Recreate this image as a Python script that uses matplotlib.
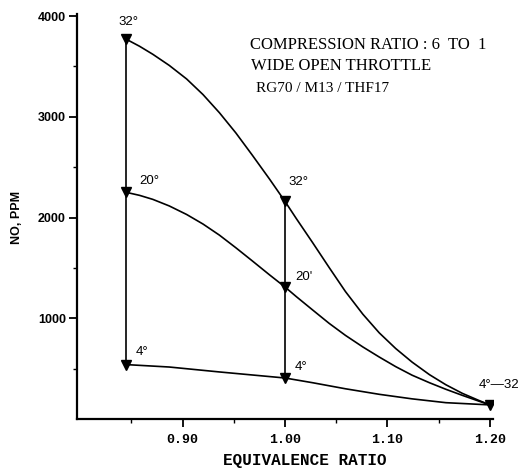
import matplotlib
matplotlib.use('Agg')
import matplotlib.pyplot as plt

# equivalence ratio / NO ppm
phi_32 = [0.845, 0.858, 0.871, 0.887, 0.904, 0.920, 0.936, 0.952, 0.968, 0.985, 1.000,
          1.011, 1.027, 1.043, 1.059, 1.076, 1.092, 1.108, 1.124, 1.141, 1.157, 1.173, 1.189, 1.200]
no_32 = [3770, 3700, 3620, 3510, 3375, 3220, 3040, 2840, 2620, 2380, 2160,
         1990, 1750, 1505, 1265, 1040, 855, 700, 565, 440, 340, 255, 185, 140]

phi_20 = [0.845, 0.858, 0.871, 0.887, 0.904, 0.920, 0.936, 0.952, 0.968, 0.985, 1.000,
          1.011, 1.027, 1.043, 1.059, 1.076, 1.092, 1.108, 1.124, 1.141, 1.157, 1.173, 1.189, 1.200]
no_20 = [2250, 2220, 2180, 2115, 2030, 1935, 1825, 1700, 1570, 1430, 1310,
         1215, 1082, 950, 830, 715, 615, 520, 435, 360, 295, 235, 178, 140]

phi_4 = [0.845, 0.887, 0.936, 1.000, 1.027, 1.059, 1.092, 1.124, 1.157, 1.200]
no_4 = [540, 516, 467, 407, 360, 300, 245, 200, 162, 140]

# measured points (triangles)
phi_left = [0.845, 0.845, 0.845]
no_left = [3770, 2250, 540]
phi_mid = [1.00, 1.00, 1.00]
no_mid = [2160, 1310, 407]
phi_end = [1.20]
no_end = [140]

labels_left = ['32°', '20°', '4°']
labels_mid = ['32°', "20'", '4°']
label_end = '4°\u201432'

fig = plt.figure(figsize=(5.23, 4.70), dpi=100)
ax = fig.add_axes([77/523, 51/470, 416/523, 405/470])

lw = 1.2
ax.plot(phi_32, no_32, color='black', lw=lw)
ax.plot(phi_20, no_20, color='black', lw=lw)
ax.plot(phi_4, no_4, color='black', lw=lw)
ax.plot(phi_left, no_left, color='black', lw=lw, marker='v', ms=6.5)
ax.plot(phi_mid, no_mid, color='black', lw=lw, marker='v', ms=6.5)
ax.plot(phi_end, no_end, color='black', ls='none', marker='v', ms=6.5)

lab_font = dict(family='Liberation Sans', fontsize=9.5, color='black')
left_off = [(2, 17, 'center'), (13, 11, 'left'), (10, 13, 'left')]
for x, y, t, (dx, dy, ha) in zip(phi_left, no_left, labels_left, left_off):
    ax.annotate(t, (x, y), xytext=(dx, dy), textcoords='offset pixels',
                ha=ha, va='center', **lab_font)
mid_off = [(3, 19), (10, 10), (10, 11)]
for x, y, t, (dx, dy) in zip(phi_mid, no_mid, labels_mid, mid_off):
    ax.annotate(t, (x, y), xytext=(dx, dy), textcoords='offset pixels',
                ha='left', va='center', **lab_font)
ax.annotate(label_end, (phi_end[0], no_end[0]), xytext=(-11, 20),
            textcoords='offset pixels', ha='left', va='center',
            annotation_clip=False, **lab_font)

ax.set_xlim(0.797, 1.203)
ax.set_ylim(0, 4020)
for s in ['top', 'right']:
    ax.spines[s].set_visible(False)
for s in ['left', 'bottom']:
    ax.spines[s].set_linewidth(1.6)

ax.set_xticks([0.90, 1.00, 1.10, 1.20])
ax.set_xticklabels(['0.90', '1.00', '1.10', '1.20'])
ax.set_xticks([0.85, 0.95, 1.05, 1.15], minor=True)
ax.set_yticks([1000, 2000, 3000, 4000])
ax.set_yticks([500, 1500, 2500, 3500], minor=True)
ax.tick_params(axis='both', which='major', direction='out', length=6, width=1.3)
ax.tick_params(axis='both', which='minor', direction='out', length=3, width=1.0)
ax.tick_params(axis='y', pad=2)
ax.tick_params(axis='x', pad=5)
for t in ax.get_yticklabels():
    t.set_fontfamily('Liberation Sans')
    t.set_fontweight('bold')
    t.set_fontsize(9)
for t in ax.get_xticklabels():
    t.set_fontfamily('Liberation Mono')
    t.set_fontweight('bold')
    t.set_fontsize(9.5)

fig.text(305/523, 1 - 461/470, 'EQUIVALENCE RATIO', ha='center', va='center',
         family='Liberation Mono', fontweight='bold', fontsize=11.5)
fig.text(17/523, 1 - 217/470, 'NO, PPM', ha='center', va='center', rotation=90,
         family='Liberation Sans', fontweight='bold', fontsize=9)

note = dict(family='Liberation Serif', color='black', ha='left', va='center')
fig.text(250/523, 1 - 45/470, 'COMPRESSION RATIO : 6  TO  1', fontsize=12, **note)
fig.text(251/523, 1 - 66/470, 'WIDE OPEN THROTTLE', fontsize=12, **note)
fig.text(256/523, 1 - 88/470, 'RG70 / M13 / THF17', fontsize=11, **note)

fig.savefig('out.png', dpi=100)
